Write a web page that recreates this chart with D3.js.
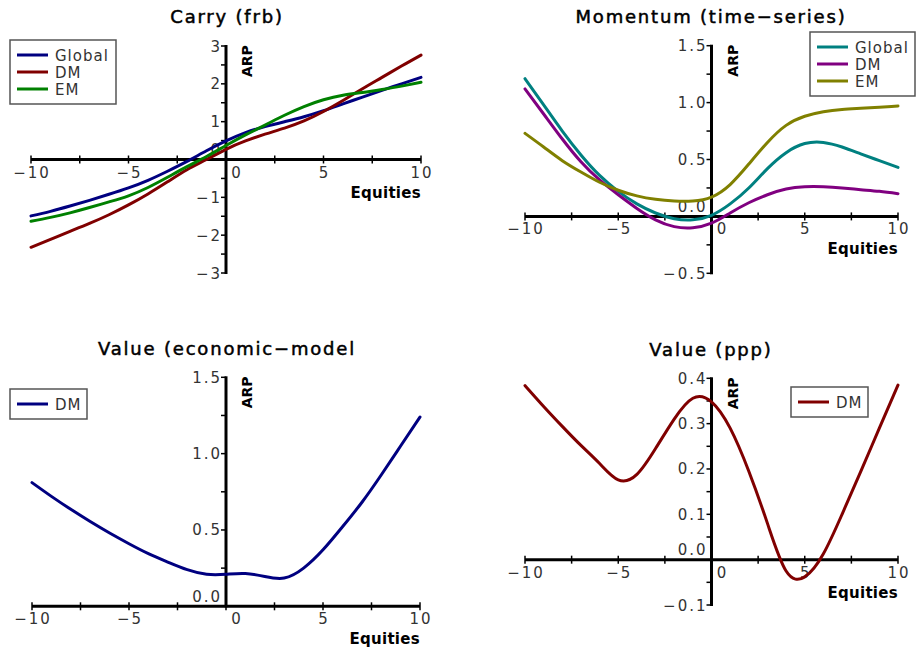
<!DOCTYPE html>
<html>
<head>
<meta charset="utf-8">
<script src="https://cdn.jsdelivr.net/npm/d3@7"></script>
<style>
  body { margin: 0; background: #fff; }
  text { font-family: "DejaVu Sans", "Liberation Sans", sans-serif; }
</style>
</head>
<body>
<svg id="chart" width="916" height="649"></svg>
<script>
// x values shared by every panel
const equities = [-10, -9, -8, -7, -6, -5, -4, -3, -2, -1, 0, 1, 2, 3, 4, 5, 6, 7, 8, 9, 10];
const xTicks = [-10, -5, 0, 5, 10];

// Carry (frb)
const carryGlobal = [-1.49, -1.37, -1.23, -1.08, -0.92, -0.75, -0.55, -0.31, -0.05, 0.23, 0.49, 0.71, 0.87, 1.0, 1.13, 1.29, 1.47, 1.65, 1.83, 2.0, 2.17];
const carryDM = [-2.32, -2.11, -1.90, -1.69, -1.46, -1.20, -0.91, -0.59, -0.27, 0.0, 0.27, 0.49, 0.67, 0.83, 1.02, 1.27, 1.56, 1.87, 2.17, 2.47, 2.76];
const carryEM = [-1.63, -1.53, -1.41, -1.27, -1.12, -0.96, -0.74, -0.47, -0.19, 0.08, 0.37, 0.65, 0.91, 1.17, 1.40, 1.58, 1.70, 1.77, 1.85, 1.94, 2.04];
const carryTicks = [-3, -2, -1, 0, 1, 2, 3];

// Momentum (time-series)
const momGlobal = [1.21, 0.98, 0.75, 0.54, 0.36, 0.22, 0.11, 0.03, -0.02, -0.03, 0.01, 0.11, 0.25, 0.42, 0.56, 0.64, 0.65, 0.61, 0.55, 0.49, 0.43];
const momDM = [1.12, 0.90, 0.68, 0.48, 0.32, 0.19, 0.07, -0.03, -0.09, -0.10, -0.06, 0.03, 0.12, 0.19, 0.24, 0.26, 0.26, 0.25, 0.235, 0.22, 0.20];
const momEM = [0.73, 0.61, 0.49, 0.39, 0.30, 0.23, 0.18, 0.15, 0.135, 0.135, 0.17, 0.28, 0.46, 0.65, 0.80, 0.88, 0.92, 0.94, 0.95, 0.96, 0.97];
const momTicks = [-0.5, 0.0, 0.5, 1.0, 1.5];

// Value (economic-model)
const valEconDM = [0.81, 0.72, 0.635, 0.555, 0.48, 0.41, 0.345, 0.29, 0.24, 0.21, 0.21, 0.215, 0.195, 0.185, 0.25, 0.37, 0.52, 0.68, 0.86, 1.05, 1.24];
const valEconTicks = [0.0, 0.5, 1.0, 1.5];

// Value (ppp)
const valPppDM = [0.384, 0.338, 0.294, 0.252, 0.212, 0.176, 0.188, 0.245, 0.31, 0.356, 0.348, 0.29, 0.195, 0.08, -0.025, -0.038, 0.013, 0.10, 0.194, 0.29, 0.385];
const valPppTicks = [-0.1, 0.0, 0.1, 0.2, 0.3, 0.4];

const svg = d3.select("#chart");

function signed(v, fmt) {
  return (v < 0 ? "\u2212" : "") + d3.format(fmt)(Math.abs(v));
}

function drawPanel(p) {
  const x = d3.scaleLinear().domain([-10, 10]).range(p.xRange);
  const y = d3.scaleLinear().domain(p.yDomain).range(p.yRange);
  const g = svg.append("g");
  const x0 = x(0), y0 = y(0);

  // title (a thin stroke makes it a bit heavier than regular)
  g.append("text")
    .attr("x", p.titleX).attr("y", p.titleY)
    .attr("text-anchor", "middle")
    .attr("font-size", 18)
    .attr("letter-spacing", "1.8px")
    .attr("dx", 1)
    .attr("fill", "#000")
    .attr("stroke", "#000")
    .attr("stroke-width", 0.5)
    .text(p.title);

  // x ticks, every 2.5
  const xt = d3.range(-10, 10.01, 2.5);
  g.append("g").selectAll("line").data(xt).join("line")
    .attr("x1", d => x(d)).attr("x2", d => x(d))
    .attr("y1", y0 - 4).attr("y2", y0 + 4)
    .attr("stroke", "#000").attr("stroke-width", 1.5);

  // y ticks, major and minor
  const step = p.yTicks[1] - p.yTicks[0];
  const yt = d3.range(p.yDomain[0], p.yDomain[1] + step / 4, step / 2);
  g.append("g").selectAll("line").data(yt).join("line")
    .attr("x1", x0 - 5).attr("x2", x0)
    .attr("y1", d => y(d)).attr("y2", d => y(d))
    .attr("stroke", "#000").attr("stroke-width", 1.5);

  // axes
  g.append("line")
    .attr("x1", p.xRange[0]).attr("x2", p.xRange[1])
    .attr("y1", y0).attr("y2", y0)
    .attr("stroke", "#000").attr("stroke-width", 3);
  g.append("line")
    .attr("x1", x0).attr("x2", x0)
    .attr("y1", y(p.yDomain[1]) - 1).attr("y2", y(p.yDomain[0]) + 1)
    .attr("stroke", "#000").attr("stroke-width", 3);

  // x tick labels (0 is pushed right of the y axis)
  g.append("g").selectAll("text").data(xTicks).join("text")
    .attr("x", d => x(d) + (d === 0 ? 10 : 0) + 1)
    .attr("y", y0 + 18)
    .attr("text-anchor", "middle")
    .attr("font-size", 15)
    .attr("letter-spacing", "2px")
    .attr("fill", "#333")
    .text(d => signed(d, "d"));

  // y tick labels (0 is lifted above the x axis)
  g.append("g").selectAll("text").data(p.yTicks).join("text")
    .attr("x", x0 - 4)
    .attr("y", d => y(d) + 5.5 - (d === 0 ? 10 : 0))
    .attr("text-anchor", "end")
    .attr("font-size", 15)
    .attr("letter-spacing", "2px")
    .attr("fill", "#333")
    .text(d => signed(d, p.yFmt));

  // axis labels
  g.append("text")
    .attr("transform", `translate(${x0 + 26},${y(p.yDomain[1]) + 31}) rotate(-90)`)
    .attr("font-size", 14)
    .attr("font-weight", "bold")
    .text("ARP");
  g.append("text")
    .attr("x", p.xRange[1]).attr("y", y0 + 38)
    .attr("text-anchor", "end")
    .attr("font-size", 15)
    .attr("font-weight", "bold")
    .attr("letter-spacing", "0.3px")
    .text("Equities");

  // curves
  const line = d3.line()
    .x((d, i) => x(equities[i]))
    .y(d => y(d))
    .curve(d3.curveNatural);
  g.append("g").selectAll("path").data(p.series).join("path")
    .attr("d", s => line(s.values))
    .attr("fill", "none")
    .attr("stroke", s => s.color)
    .attr("stroke-width", 3)
    .attr("stroke-linecap", "round");

  // legend
  const lg = g.append("g").attr("transform", `translate(${p.legend[0]},${p.legend[1]})`);
  lg.append("rect")
    .attr("x", 0).attr("y", 0)
    .attr("width", p.legend[2]).attr("height", 13 + p.series.length * 17)
    .attr("fill", "#fff").attr("stroke", "#555").attr("stroke-width", 1.5);
  const items = lg.selectAll("g").data(p.series).join("g")
    .attr("transform", (d, i) => `translate(0,${15 + i * 17})`);
  items.append("line")
    .attr("x1", 7).attr("x2", 38)
    .attr("stroke", d => d.color).attr("stroke-width", 3);
  items.append("text")
    .attr("x", 45).attr("y", 5.5)
    .attr("font-size", 15)
    .attr("letter-spacing", "1px")
    .attr("fill", "#333")
    .text(d => d.name);
}

drawPanel({
  title: "Carry (frb)", titleX: 226, titleY: 23,
  xRange: [31, 421], yDomain: [-3, 3], yRange: [273, 46],
  yTicks: carryTicks, yFmt: "d",
  legend: [10, 40, 106],
  series: [
    { name: "Global", color: "#000080", values: carryGlobal },
    { name: "DM", color: "#800000", values: carryDM },
    { name: "EM", color: "#008000", values: carryEM }
  ]
});

drawPanel({
  title: "Momentum (time\u2212series)", titleX: 710, titleY: 23,
  xRange: [525, 898], yDomain: [-0.5, 1.5], yRange: [273.3, 45.7],
  yTicks: momTicks, yFmt: ".1f",
  legend: [810, 32, 105],
  series: [
    { name: "Global", color: "#008080", values: momGlobal },
    { name: "DM", color: "#800080", values: momDM },
    { name: "EM", color: "#808000", values: momEM }
  ]
});

drawPanel({
  title: "Value (economic\u2212model", titleX: 226, titleY: 355,
  xRange: [32, 420], yDomain: [0, 1.5], yRange: [606.3, 377.3],
  yTicks: valEconTicks, yFmt: ".1f",
  legend: [10, 389, 77],
  series: [
    { name: "DM", color: "#000080", values: valEconDM }
  ]
});

drawPanel({
  title: "Value (ppp)", titleX: 710, titleY: 356,
  xRange: [525, 898], yDomain: [-0.1, 0.4], yRange: [605, 378.3],
  yTicks: valPppTicks, yFmt: ".1f",
  legend: [791, 387, 77],
  series: [
    { name: "DM", color: "#800000", values: valPppDM }
  ]
});
</script>
</body>
</html>
